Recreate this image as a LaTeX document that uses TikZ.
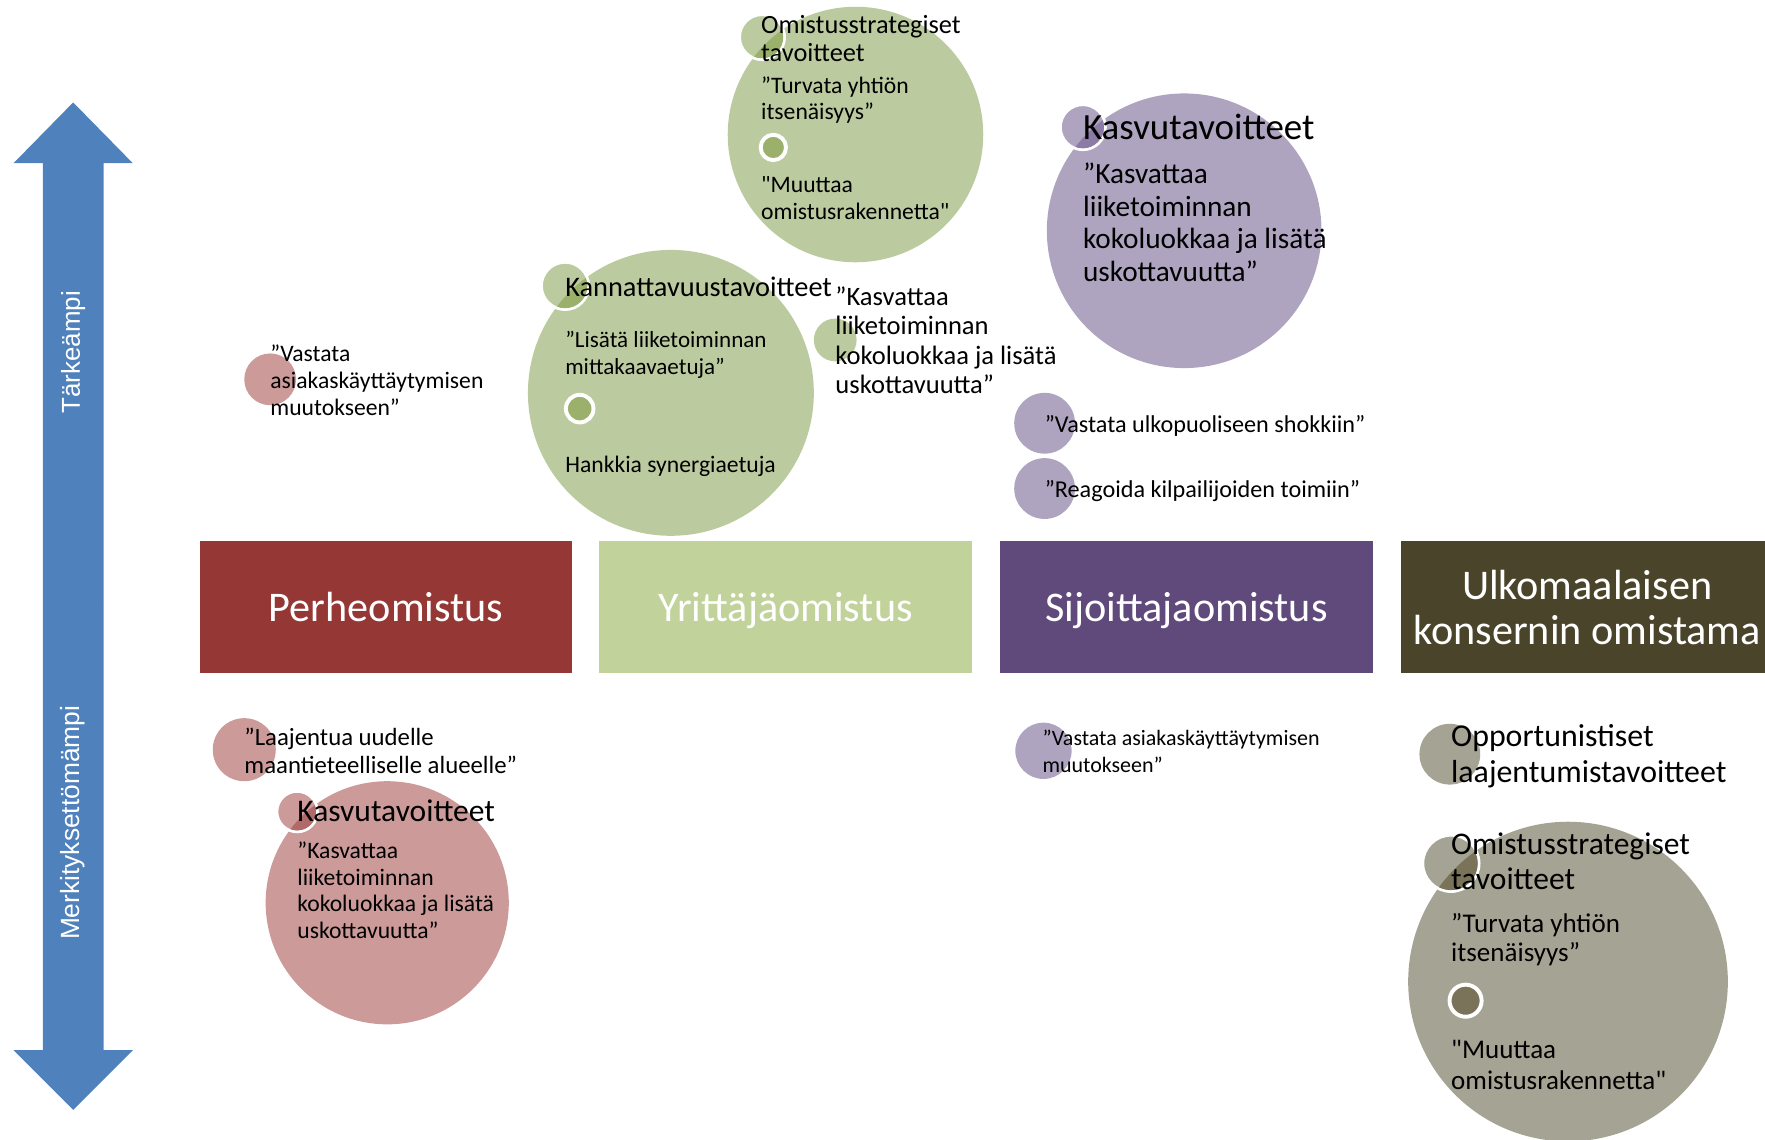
\documentclass[tikz,border=0pt]{standalone}
\usepackage{fontspec}
\setmainfont{Carlito}[Ligatures=TeXOff]
\newfontfamily\arrowfont{Liberation Sans}

\definecolor{arrowblue}{HTML}{4F81BD}
\definecolor{famred}{HTML}{953735}
\definecolor{entgreen}{HTML}{C1D29B}
\definecolor{invpurple}{HTML}{604A7B}
\definecolor{forbrown}{HTML}{4A452A}
\definecolor{redL}{HTML}{CD9A9A}
\definecolor{redD}{HTML}{B06A6A}
\definecolor{grnL}{HTML}{BCCB9F}
\definecolor{grnD}{HTML}{9BB06B}
\definecolor{purL}{HTML}{AEA4BF}
\definecolor{purD}{HTML}{8C7BA4}
\definecolor{gryL}{HTML}{A5A393}
\definecolor{gryD}{HTML}{7A735A}

\begin{document}
\begin{tikzpicture}[x=1pt, y=-1pt,
  bub/.style={circle, inner sep=0pt},
  ring/.style={circle, inner sep=0pt, draw=white, line width=2.5pt},
  dot/.style={circle, inner sep=0pt, draw=white, line width=3.5pt},
  txt/.style={anchor=base west, inner sep=0pt, align=left, yshift=-3pt},
  owner/.style={minimum width=331, minimum height=117, inner sep=0pt, text=white, text depth=0pt, align=center, font=\fontsize{37.5}{40}\selectfont}]
\useasboundingbox (0,0) rectangle (1568,1012);

\fill[arrowblue] (38,540) -- (38,145) -- (12,145) -- (65,91) -- (118,145) -- (92,145) -- (92,540) -- cycle;
\fill[arrowblue] (38,540) -- (38,933) -- (12,933) -- (65,986) -- (118,933) -- (92,933) -- (92,540) -- cycle;
\node[rotate=90, text=white, font=\arrowfont\fontsize{23}{26}\selectfont] (up) at (65,313) {Tärkeämpi};
\node[rotate=90, text=white, font=\arrowfont\fontsize{23.4}{26}\selectfont] (down) at (65,731) {Merkityksettömämpi};

\node[owner, fill=famred] (fam) at (343,539.5) {Perheomistus};
\node[owner, fill=entgreen] (ent) at (698,539.5) {Yrittäjäomistus};
\node[owner, fill=invpurple] (inv) at (1054,539.5) {Sijoittajaomistus};
\node[owner, fill=forbrown] (for) at (1410,539.5) {Ulkomaalaisen\\konsernin omistama};

\node[bub, fill=grnL, minimum size=227] (ownG) at (760,119.5) {};
\node[ring, fill=grnL, minimum size=40] (ownGs) at (677,33) {};
\begin{scope}
\clip (ownG.center) circle (113.5pt);
\fill[grnD] (ownGs.center) circle (18.75pt);
\end{scope}
\node[dot, fill=grnD, minimum size=22.5] (ownGd) at (687,131) {};
\node[txt, font=\fontsize{23.4}{25}\selectfont] (ownGh) at (676,51.5) {Omistusstrategiset\\tavoitteet};
\node[txt, font=\fontsize{21}{23}\selectfont] (ownGa) at (676,103) {”Turvata yhtiön\\itsenäisyys”};
\node[txt, font=\fontsize{21}{24}\selectfont] (ownGb) at (676,192) {"Muuttaa\\omistusrakennetta"};

\node[bub, fill=grnL, minimum size=254] (proG) at (596,349) {};
\node[ring, fill=grnL, minimum size=42] (proGs) at (502,254) {};
\begin{scope}
\clip (proG.center) circle (127pt);
\fill[grnD] (proGs.center) circle (19.75pt);
\end{scope}
\node[dot, fill=grnD, minimum size=24.5] (proGd) at (515,363) {};
\node[txt, font=\fontsize{25.2}{27}\selectfont] (proGh) at (502,260) {Kannattavuustavoitteet};
\node[txt, font=\fontsize{20.5}{24}\selectfont] (proGa) at (502,330) {”Lisätä liiketoiminnan\\mittakaavaetuja”};
\node[txt, font=\fontsize{21}{24}\selectfont] (proGb) at (502,417) {Hankkia synergiaetuja};

\node[bub, fill=grnL, minimum size=38] (grwGs) at (742,302) {};
\node[txt, font=\fontsize{23.6}{26}\selectfont] (grwGa) at (742,346.5) {”Kasvattaa\\liiketoiminnan\\kokoluokkaa ja lisätä\\uskottavuutta”};

\node[bub, fill=purL, minimum size=244] (grwP) at (1052,205) {};
\node[ring, fill=purL, minimum size=40] (grwPs) at (962,113) {};
\begin{scope}
\clip (grwP.center) circle (122pt);
\fill[purD] (grwPs.center) circle (18.75pt);
\end{scope}
\node[txt, font=\fontsize{32.8}{35}\selectfont] (grwPh) at (962,120.6) {Kasvutavoitteet};
\node[txt, font=\fontsize{26}{29}\selectfont] (grwPa) at (962,247) {”Kasvattaa\\liiketoiminnan\\kokoluokkaa ja lisätä\\uskottavuutta”};

\node[bub, fill=purL, minimum size=54] (shkP) at (928,376) {};
\node[txt, font=\fontsize{21.5}{24}\selectfont] (shkPa) at (928,381) {”Vastata ulkopuoliseen shokkiin”};
\node[bub, fill=purL, minimum size=54] (cmpP) at (928,434) {};
\node[txt, font=\fontsize{21.5}{24}\selectfont] (cmpPa) at (928,439) {”Reagoida kilpailijoiden toimiin”};
\node[bub, fill=purL, minimum size=50] (cusP) at (927,667) {};
\node[txt, font=\fontsize{19.5}{24}\selectfont] (cusPa) at (926,683.5) {”Vastata asiakaskäyttäytymisen\\muutokseen”};

\node[bub, fill=redL, minimum size=46] (cusR) at (240,337) {};
\node[txt, font=\fontsize{21}{24}\selectfont] (cusRa) at (240,366) {”Vastata\\asiakaskäyttäytymisen\\muutokseen”};
\node[bub, fill=redL, minimum size=56] (geoR) at (217,666) {};
\node[txt, font=\fontsize{22}{25}\selectfont] (geoRa) at (217,684) {”Laajentua uudelle\\maantieteelliselle alueelle”};

\node[bub, fill=redL, minimum size=216] (grwR) at (344,802) {};
\node[ring, fill=redL, minimum size=36] (grwRs) at (264,721) {};
\begin{scope}
\clip (grwR.center) circle (108pt);
\fill[redD] (grwRs.center) circle (16.75pt);
\end{scope}
\node[txt, font=\fontsize{28}{30}\selectfont] (grwRh) at (264,726.5) {Kasvutavoitteet};
\node[txt, font=\fontsize{21}{23.5}\selectfont] (grwRa) at (264,830.5) {”Kasvattaa\\liiketoiminnan\\kokoluokkaa ja lisätä\\uskottavuutta”};

\node[bub, fill=gryL, minimum size=54] (oppY) at (1288,670) {};
\node[txt, font=\fontsize{28.3}{32}\selectfont] (oppYh) at (1289,692.5) {Opportunistiset\\laajentumistavoitteet};

\node[bub, fill=gryL, minimum size=284] (ownY) at (1393,872) {};
\node[ring, fill=gryL, minimum size=50] (ownYs) at (1289,767) {};
\begin{scope}
\clip (ownY.center) circle (142pt);
\fill[gryD] (ownYs.center) circle (23.75pt);
\end{scope}
\node[dot, fill=gryD, minimum size=28.5] (ownYd) at (1302,889) {};
\node[txt, font=\fontsize{28}{31}\selectfont] (ownYh) at (1289,787.5) {Omistusstrategiset\\tavoitteet};
\node[txt, font=\fontsize{24}{26}\selectfont] (ownYa) at (1289,851.6) {”Turvata yhtiön\\itsenäisyys”};
\node[txt, font=\fontsize{24}{27}\selectfont] (ownYb) at (1289,964.6) {"Muuttaa\\omistusrakennetta"};

\end{tikzpicture}
\end{document}
